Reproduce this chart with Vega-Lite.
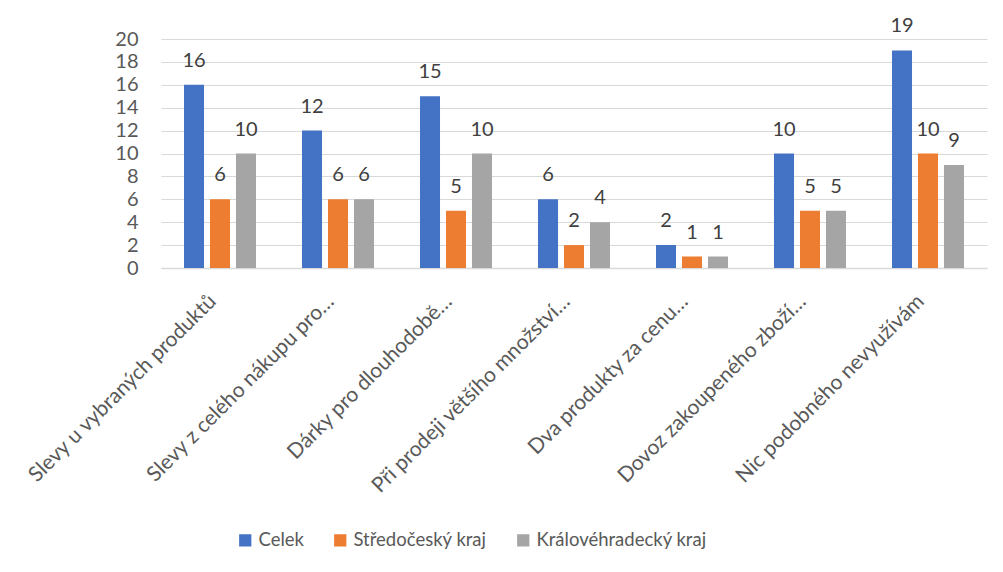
{
  "$schema": "https://vega.github.io/schema/vega-lite/v6.json",
  "width": 826,
  "height": 229,
  "autosize": {"type": "none"},
  "padding": {"left": 161, "top": 39, "right": 16, "bottom": 304},
  "background": "white",
  "data": {
    "values": [
      {"kat": "Slevy u vybraných produktů", "serie": "Celek", "hodnota": 16},
      {"kat": "Slevy u vybraných produktů", "serie": "Středočeský kraj", "hodnota": 6},
      {"kat": "Slevy u vybraných produktů", "serie": "Královéhradecký kraj", "hodnota": 10},
      {"kat": "Slevy z celého nákupu pro…", "serie": "Celek", "hodnota": 12},
      {"kat": "Slevy z celého nákupu pro…", "serie": "Středočeský kraj", "hodnota": 6},
      {"kat": "Slevy z celého nákupu pro…", "serie": "Královéhradecký kraj", "hodnota": 6},
      {"kat": "Dárky pro dlouhodobě…", "serie": "Celek", "hodnota": 15},
      {"kat": "Dárky pro dlouhodobě…", "serie": "Středočeský kraj", "hodnota": 5},
      {"kat": "Dárky pro dlouhodobě…", "serie": "Královéhradecký kraj", "hodnota": 10},
      {"kat": "Při prodeji většího množství…", "serie": "Celek", "hodnota": 6},
      {"kat": "Při prodeji většího množství…", "serie": "Středočeský kraj", "hodnota": 2},
      {"kat": "Při prodeji většího množství…", "serie": "Královéhradecký kraj", "hodnota": 4},
      {"kat": "Dva produkty za cenu…", "serie": "Celek", "hodnota": 2},
      {"kat": "Dva produkty za cenu…", "serie": "Středočeský kraj", "hodnota": 1},
      {"kat": "Dva produkty za cenu…", "serie": "Královéhradecký kraj", "hodnota": 1},
      {"kat": "Dovoz zakoupeného zboží…", "serie": "Celek", "hodnota": 10},
      {"kat": "Dovoz zakoupeného zboží…", "serie": "Středočeský kraj", "hodnota": 5},
      {"kat": "Dovoz zakoupeného zboží…", "serie": "Královéhradecký kraj", "hodnota": 5},
      {"kat": "Nic podobného nevyužívám", "serie": "Celek", "hodnota": 19},
      {"kat": "Nic podobného nevyužívám", "serie": "Středočeský kraj", "hodnota": 10},
      {"kat": "Nic podobného nevyužívám", "serie": "Královéhradecký kraj", "hodnota": 9}
    ]
  },
  "encoding": {
    "x": {
      "field": "kat",
      "type": "nominal",
      "sort": null,
      "title": null,
      "scale": {"paddingInner": 0.39, "paddingOuter": 0.195},
      "axis": {
        "labelAngle": -45,
        "labelAlign": "right",
        "labelBaseline": "middle",
        "labelPadding": 30,
        "labelOffset": -7,
        "labelFont": "Lato",
        "labelFontSize": 21,
        "labelColor": "#595959",
        "labelLimit": 400,
        "ticks": false,
        "domainColor": "#D9D9D9",
        "domainWidth": 1.5,
        "grid": false
      }
    },
    "xOffset": {
      "field": "serie",
      "type": "nominal",
      "sort": ["Celek", "Středočeský kraj", "Královéhradecký kraj"],
      "scale": {"paddingInner": 0.23}
    },
    "y": {
      "field": "hodnota",
      "type": "quantitative",
      "title": null,
      "scale": {"domain": [0, 20], "nice": false},
      "axis": {
        "values": [0, 2, 4, 6, 8, 10, 12, 14, 16, 18, 20],
        "labelFont": "Lato",
        "labelFontSize": 20,
        "labelColor": "#595959",
        "labelPadding": 23,
        "ticks": false,
        "domain": false,
        "gridColor": "#D9D9D9",
        "gridWidth": 1.2
      }
    }
  },
  "layer": [
    {
      "mark": {"type": "bar"},
      "encoding": {
        "color": {
          "field": "serie",
          "type": "nominal",
          "sort": ["Celek", "Středočeský kraj", "Královéhradecký kraj"],
          "scale": {"domain": ["Celek", "Středočeský kraj", "Královéhradecký kraj"], "range": ["#4472C4", "#ED7D31", "#A5A5A5"]},
          "legend": {
            "title": null,
            "orient": "none",
            "direction": "horizontal",
            "legendX": 75,
            "legendY": 492,
            "symbolType": "square",
            "symbolSize": 150,
            "symbolStrokeWidth": 0,
            "labelFont": "Lato",
            "labelFontSize": 18.5,
            "labelLimit": 400,
            "labelColor": "#595959",
            "labelOffset": 4,
            "columnPadding": 27
          }
        }
      }
    },
    {
      "mark": {"type": "text", "baseline": "alphabetic", "dy": -18, "font": "Lato", "fontSize": 20, "color": "#404040"},
      "encoding": {
        "text": {"field": "hodnota", "type": "quantitative"}
      }
    }
  ],
  "config": {
    "view": {"stroke": null}
  }
}
